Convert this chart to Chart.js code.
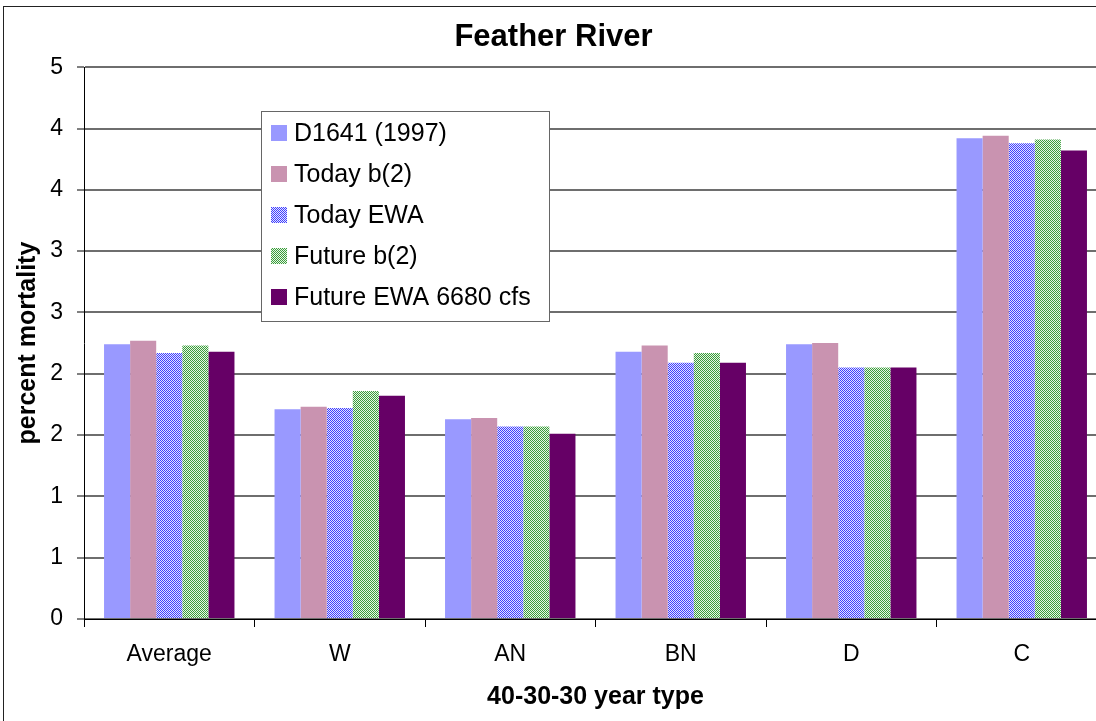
<!DOCTYPE html>
<html>
<head>
<meta charset="utf-8">
<script src="https://cdn.jsdelivr.net/npm/chart.js@4.4.1/dist/chart.umd.min.js"></script>
<style>
  html, body { margin: 0; padding: 0; overflow: hidden; background: #fff; }
  canvas { display: block; }
</style>
</head>
<body>
<canvas id="mortalityChart" width="1112" height="721" style="width:1112px;height:721px"></canvas>
<script>
const categories = ['Average', 'W', 'AN', 'BN', 'D', 'C'];
const seriesNames = ['D1641 (1997)', 'Today b(2)', 'Today EWA', 'Future b(2)', 'Future EWA 6680 cfs'];
const d1641 = [2.24, 1.71, 1.63, 2.18, 2.24, 3.92];
const todayB2 = [2.27, 1.73, 1.64, 2.23, 2.25, 3.94];
const todayEwa = [2.17, 1.72, 1.57, 2.09, 2.05, 3.88];
const futureB2 = [2.23, 1.86, 1.57, 2.17, 2.05, 3.91];
const futureEwa = [2.18, 1.82, 1.51, 2.09, 2.05, 3.82];

const FONT = "'Liberation Sans', Arial, sans-serif";

// small checkerboard fills like the old excel patterns
function checker(dark, light) {
  const c = document.createElement('canvas');
  c.width = 2; c.height = 2;
  const g = c.getContext('2d');
  g.fillStyle = light; g.fillRect(0, 0, 2, 2);
  g.fillStyle = dark; g.fillRect(0, 0, 1, 1); g.fillRect(1, 1, 1, 1);
  return g.createPattern(c, 'repeat');
}

const frameAndLegend = {
  id: 'frameAndLegend',
  beforeDraw(chart) {
    const ctx = chart.ctx;
    ctx.save();
    ctx.fillStyle = '#fff';
    ctx.fillRect(0, 0, chart.width, chart.height);
    ctx.strokeStyle = '#222';
    ctx.lineWidth = 1;
    ctx.strokeRect(3.5, 6.5, 1300, 900);
    ctx.restore();
  },
  afterDraw(chart) {
    const ctx = chart.ctx;
    ctx.save();
    ctx.fillStyle = '#fff';
    ctx.fillRect(261, 111, 288, 210);
    ctx.strokeStyle = '#666';
    ctx.lineWidth = 1;
    ctx.strokeRect(261.5, 111.5, 288, 210);
    ctx.font = '25px ' + FONT;
    ctx.textBaseline = 'middle';
    chart.data.datasets.forEach((ds, i) => {
      const cy = 133 + i * 41;
      ctx.fillStyle = ds.backgroundColor;
      ctx.fillRect(271, cy - 8, 16, 16);
      ctx.fillStyle = '#000';
      ctx.fillText(ds.label, 294, cy + 1);
    });
    ctx.restore();
  }
};

window.onload = function () {
  const fills = [
    '#9999FF',
    '#C993B0',
    checker('#4040FF', '#E4E4FF'),
    checker('#3C9C3C', '#E6F6E6'),
    '#660066'
  ];
  const values = [d1641, todayB2, todayEwa, futureB2, futureEwa];

  const ctx = document.getElementById('mortalityChart').getContext('2d');
  new Chart(ctx, {
    type: 'bar',
    data: {
      labels: categories,
      datasets: seriesNames.map((name, i) => ({
        label: name,
        data: values[i],
        backgroundColor: fills[i],
        borderWidth: 0,
        barPercentage: 1.0,
        categoryPercentage: 0.765
      }))
    },
    options: {
      responsive: false,
      animation: false,
      layout: { padding: { left: 0, right: 5, top: 0, bottom: 0 } },
      plugins: {
        legend: { display: false },
        tooltip: { enabled: false },
        title: {
          display: true,
          text: 'Feather River',
          color: '#000',
          font: { family: FONT, size: 31, weight: 'bold' },
          padding: { top: 19, bottom: 11 }
        }
      },
      scales: {
        x: {
          offset: true,
          afterFit(scale) { scale.height = 102; },
          grid: {
            offset: true,
            drawOnChartArea: false,
            tickLength: 8,
            tickColor: '#000',
            tickWidth: 1
          },
          border: { color: '#000', width: 1 },
          ticks: {
            color: '#000',
            padding: 14,
            maxRotation: 0,
            font: { family: FONT, size: 23 }
          },
          title: {
            display: true,
            text: '40-30-30 year type',
            color: '#000',
            font: { family: FONT, size: 25, weight: 'bold' },
            padding: { top: 0, bottom: 9 }
          }
        },
        y: {
          min: 0,
          max: 4.5,
          afterFit(scale) { scale.width = 84; },
          grid: {
            color: '#6e6e6e',
            lineWidth: 2,
            tickLength: 7,
            tickColor: '#000',
            tickWidth: 1
          },
          border: { color: '#000', width: 1 },
          ticks: {
            stepSize: 0.5,
            color: '#000',
            padding: 14,
            font: { family: FONT, size: 23 },
            callback: (v) => Math.round(v)
          },
          title: {
            display: true,
            text: 'percent mortality',
            color: '#000',
            font: { family: FONT, size: 25, weight: 'bold' },
            padding: { top: 13, bottom: 0 }
          }
        }
      }
    },
    plugins: [frameAndLegend]
  });
};
</script>
</body>
</html>
